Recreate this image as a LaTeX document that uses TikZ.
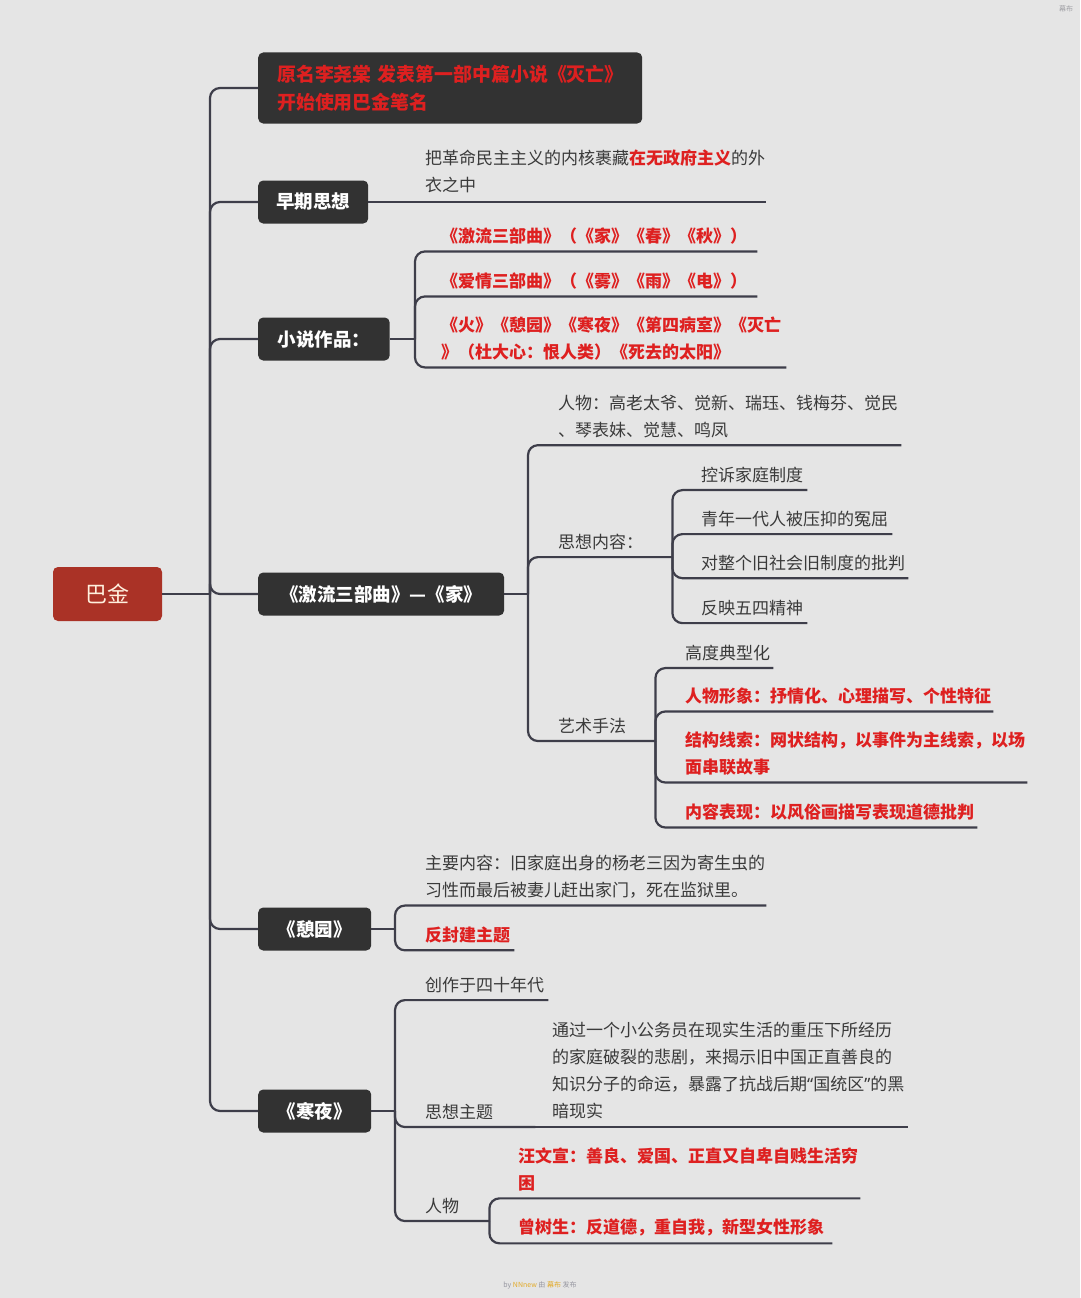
\documentclass[tikz,border=0pt]{standalone}
\usepackage{fontspec}
\setmainfont{Noto Sans CJK SC}
\newfontfamily\latinq{Noto Sans}
\usetikzlibrary{calc}
\definecolor{paper}{RGB}{229,229,229}
\definecolor{wire}{RGB}{62,62,74}
\definecolor{boxfill}{RGB}{50,50,50}
\definecolor{hotred}{RGB}{222,32,32}
\definecolor{rootred}{RGB}{170,50,38}
\definecolor{ink}{RGB}{58,58,58}
\definecolor{wmgold}{RGB}{226,170,40}
\tikzset{
    link/.style={draw=wire, line width=2.2pt, rounded corners=10pt},
    topic/.style={fill=boxfill, text=white, anchor=west, rounded corners=5pt,
        inner xsep=18pt, minimum height=43pt, font=\fontsize{18.5}{28}\selectfont\bfseries},
    rootbox/.style={fill=rootred, text={rgb,255:red,255;green,240;blue,222}, rounded corners=5pt,
        minimum width=109pt, minimum height=54pt, font=\fontsize{22}{26}\selectfont},
    leaf/.style={anchor=base west, inner xsep=0pt, inner ysep=7pt, align=left,
        text=ink, font=\fontsize{17}{27}\selectfont},
    hot/.style={leaf, text=hotred, font=\fontsize{17}{27}\selectfont\bfseries},
}
\begin{document}
\begin{tikzpicture}[x=1pt, y=-1pt]
    \fill[paper] (0,0) rectangle (1080,1298);
    \useasboundingbox (0,0) rectangle (1080,1298);
    % root and first level
    \node[rootbox] (bajin) at (107.5,594) {巴金};
    \coordinate (t) at (210,594);
    \node[topic, text=hotred, align=left, text width=346pt, inner xsep=19pt, minimum height=71pt,
        font=\fontsize{18.9}{28}\selectfont\bfseries] (orig) at (258,88) {原名李尧棠~发表第一部中篇小说《灭亡》\\开始使用巴金笔名};
    \node[topic] (early) at (258,202) {早期思想};
    \node[topic, inner xsep=19.5pt] (novel) at (258,339) {小说作品：};
    \node[topic, inner xsep=22pt] (jia) at (258,594) {《激流三部曲》—《家》};
    \node[topic, inner xsep=19.5pt] (qiyuan) at (258,929) {《憩园》};
    \node[topic, inner xsep=19.5pt] (hanye) at (258,1111) {《寒夜》};
    \draw[link] (bajin.east) -- (t);
    \foreach \b in {orig,early,novel,jia,qiyuan,hanye}
        \draw[link] (t) |- (\b.west);
    % early thought
    \node[leaf, text width=341pt] (e1) at (425,164.5) {把革命民主主义的内核裹藏{\bfseries\color{hotred}在无政府主义}的外\\衣之中};
    \draw[link] (early.east) -- (early.east -| e1.south east);
    % novels
    \coordinate (nj) at (415,339);
    \node[hot, text width=316pt] (n1) at (441,242.5) {《激流三部曲》（《家》《春》《秋》）};
    \node[hot, text width=316pt] (n2) at (441,287.5) {《爱情三部曲》（《雾》《雨》《电》）};
    \node[hot, text width=345pt] (n3) at (441,331.5) {《火》《憩园》《寒夜》《第四病室》《灭亡\\》（杜大心：恨人类）《死去的太阳》};
    \draw[link] (novel.east) -- (nj);
    \foreach \k in {n1,n2,n3}
        \draw[link] (nj) |- (\k.south east);
    % the family
    \coordinate (jj) at (528,594);
    \node[leaf, text width=343pt] (j1) at (558,409.5) {人物：高老太爷、觉新、瑞珏、钱梅芬、觉民\\、琴表妹、觉慧、鸣凤};
    \node[leaf, text width=114pt] (j2) at (558,548.5) {思想内容：};
    \node[leaf, text width=97pt] (j3) at (558,732.5) {艺术手法};
    \draw[link] (jia.east) -- (jj);
    \foreach \k in {j1,j2,j3}
        \draw[link] (jj) |- (\k.south east);
    \node[leaf, text width=106pt] (s1) at (701,481.5) {控诉家庭制度};
    \node[leaf, text width=191pt] (s2) at (701,525.5) {青年一代人被压抑的冤屈};
    \node[leaf, text width=207pt] (s3) at (701,569.5) {对整个旧社会旧制度的批判};
    \node[leaf, text width=106pt] (s4) at (701,614.5) {反映五四精神};
    \foreach \k in {s1,s2,s3,s4}
        \draw[link] (j2.south east) |- (\k.south east);
    \node[leaf, text width=88pt] (a1) at (685,659.5) {高度典型化};
    \node[hot, text width=308pt] (a2) at (685,702.5) {人物形象：抒情化、心理描写、个性特征};
    \node[hot, text width=342pt] (a3) at (685,746.5) {结构线索：网状结构，以事件为主线索，以场\\面串联故事};
    \node[hot, text width=292pt] (a4) at (685,818.5) {内容表现：以风俗画描写表现道德批判};
    \foreach \k in {a1,a2,a3,a4}
        \draw[link] (j3.south east) |- (\k.south east);
    % garden
    \coordinate (qj) at (395,929);
    \node[leaf, text width=341pt] (q1) at (425,869.5) {主要内容：旧家庭出身的杨老三因为寄生虫的\\习性而最后被妻儿赶出家门，死在监狱里。};
    \node[hot, text width=89pt] (q2) at (425,941.5) {反封建主题};
    \draw[link] (qiyuan.east) -- (qj);
    \foreach \k in {q1,q2}
        \draw[link] (qj) |- (\k.south east);
    % cold night
    \coordinate (hj) at (395,1111);
    \node[leaf, text width=123pt] (h1) at (425,991.5) {创作于四十年代};
    \node[leaf, text width=110pt] (h2) at (425,1118.5) {思想主题};
    \node[leaf, text width=356pt] (h3) at (552,1036.5) {通过一个小公务员在现实生活的重压下所经历\\的家庭破裂的悲剧，来揭示旧中国正直善良的\\知识分子的命运，暴露了抗战后期{\latinq “}国统区{\latinq ”}的黑\\暗现实};
    \node[leaf, text width=64pt] (h4) at (425,1212.5) {人物};
    \draw[link] (hanye.east) -- (hj);
    \foreach \k in {h1,h2,h4}
        \draw[link] (hj) |- (\k.south east);
    \draw[link] (h2.south east) -- (h2.south east -| h3.south east);
    \node[hot, text width=342pt] (p1) at (518,1162.5) {汪文宣：善良、爱国、正直又自卑自贱生活穷\\困};
    \node[hot, text width=314pt] (p2) at (518,1233.5) {曾树生：反道德，重自我，新型女性形象};
    \foreach \k in {p1,p2}
        \draw[link] (h4.south east) |- (\k.south east);
    % watermark
    \node[text={rgb,255:red,150;green,150;blue,160}, font=\fontsize{7}{8}\selectfont] (wm) at (540,1285)
        {by \textcolor{wmgold}{NNnew} 由 \textcolor{wmgold}{幕布} 发布};
    \node[text={rgb,255:red,160;green,160;blue,165}, font=\fontsize{7}{8}\selectfont] (wm2) at (1066,9) {幕布};
\end{tikzpicture}
\end{document}
